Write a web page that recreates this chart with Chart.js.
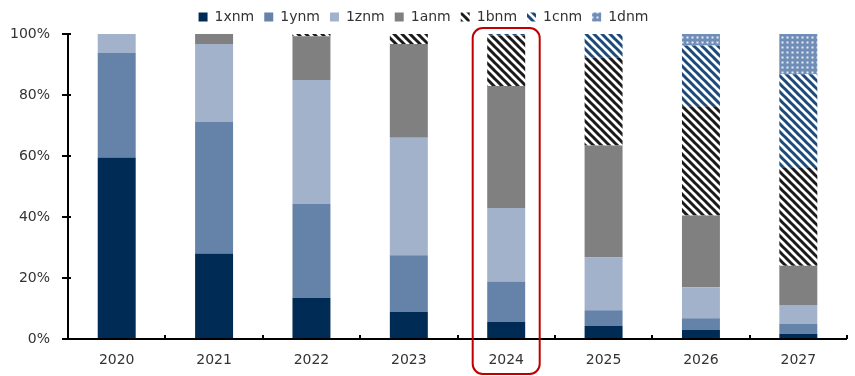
<!DOCTYPE html>
<html>
<head>
<meta charset="utf-8">
<script src="https://cdn.jsdelivr.net/npm/chart.js@4/dist/chart.umd.min.js"></script>
<style>
html,body{margin:0;padding:0;background:#fff;}
#wrap{width:855px;height:376px;position:relative;}
</style>
</head>
<body>
<div id="wrap"><canvas id="c" width="855" height="376"></canvas></div>
<script>
const categories = ['2020','2021','2022','2023','2024','2025','2026','2027'];
const seriesNames = ['1xnm','1ynm','1znm','1anm','1bnm','1cnm','1dnm'];
const s1xnm = [59.5, 28.1, 13.6, 9.0, 5.7, 4.3, 3.0, 1.8];
const s1ynm = [34.3, 43.1, 30.7, 18.5, 13.2, 5.2, 3.9, 3.2];
const s1znm = [6.2, 25.5, 40.6, 38.5, 24.1, 17.3, 10.1, 6.2];
const s1anm = [0, 3.3, 14.4, 30.7, 40.0, 36.7, 23.5, 12.9];
const s1bnm = [0, 0, 0.7, 3.3, 16.5, 28.8, 35.8, 32.2];
const s1cnm = [0, 0, 0, 0, 0.5, 7.7, 19.9, 30.5];
const s1dnm = [0, 0, 0, 0, 0, 0, 3.8, 13.2];
const yTicks = [0, 20, 40, 60, 80, 100];
const highlightIndex = 4;

function stripePattern(color) {
  const size = 8;
  const c = document.createElement('canvas');
  c.width = size; c.height = size;
  const g = c.getContext('2d');
  g.fillStyle = '#ffffff';
  g.fillRect(0, 0, size, size);
  g.strokeStyle = color;
  g.lineWidth = 3;
  g.beginPath();
  for (let k = -1; k <= 1; k++) {
    g.moveTo(k * size - 1, -1);
    g.lineTo(k * size + size + 1, size + 1);
  }
  g.stroke();
  return g.createPattern(c, 'repeat');
}
function dotPattern(bg, dot) {
  const size = 5;
  const c = document.createElement('canvas');
  c.width = size; c.height = size;
  const g = c.getContext('2d');
  g.fillStyle = bg;
  g.fillRect(0, 0, size, size);
  g.fillStyle = dot;
  g.fillRect(1.5, 1.5, 2, 2);
  return g.createPattern(c, 'repeat');
}

const fills = [
  '#002b55',
  '#6583a8',
  '#a2b2ca',
  '#808080',
  stripePattern('#1a1a1a'),
  stripePattern('#1c4a7a'),
  dotPattern('#6f8db6', '#e8eef6')
];
const values = [s1xnm, s1ynm, s1znm, s1anm, s1bnm, s1cnm, s1dnm];

const datasets = seriesNames.map((n, i) => ({
  label: n,
  data: values[i],
  backgroundColor: fills[i],
  borderWidth: 0,
  categoryPercentage: 1,
  barPercentage: 0.39
}));

const axisPlugin = {
  id: 'axisPlugin',
  afterDraw(chart) {
    const ctx = chart.ctx;
    const x = chart.scales.x, y = chart.scales.y;
    const ca = chart.chartArea;
    const y0 = Math.round(y.getPixelForValue(0));
    const y100 = Math.round(y.getPixelForValue(100));
    const L = Math.round(ca.left), R = Math.round(ca.right);
    ctx.save();
    ctx.fillStyle = '#000000';
    ctx.fillRect(L - 1, y100, 2, y0 - y100 + 1);
    ctx.fillRect(L - 1, y0 - 1, R - L + 1, 2);
    yTicks.forEach(v => {
      const py = Math.round(y.getPixelForValue(v));
      ctx.fillRect(L - 6, py - 1, 9, 2);
    });
    const step = x.getPixelForValue(1) - x.getPixelForValue(0);
    for (let i = 0; i < categories.length; i++) {
      const px = Math.round(x.getPixelForValue(i) + step / 2);
      ctx.fillRect(px - 1, y0 - 4, 2, 4);
    }
    const cx = x.getPixelForValue(highlightIndex);
    const w = 67, left = cx - w / 2, top = y100 - 6, bottom = chart.height - 2;
    ctx.strokeStyle = '#c00000';
    ctx.lineWidth = 2;
    ctx.beginPath();
    ctx.roundRect(left, top, w, bottom - top, 10);
    ctx.stroke();
    ctx.restore();
  }
};

new Chart(document.getElementById('c'), {
  type: 'bar',
  data: { labels: categories, datasets },
  options: {
    responsive: false,
    animation: false,
    layout: { padding: { left: 0, right: 8, top: 0, bottom: 2 } },
    plugins: {
      legend: {
        position: 'top',
        labels: {
          font: { family: 'DejaVu Sans', size: 14 },
          color: '#333',
          boxWidth: 9,
          boxHeight: 9,
          padding: 10
        }
      },
      tooltip: { enabled: false }
    },
    scales: {
      x: {
        stacked: true,
        grid: { display: false },
        border: { display: false },
        ticks: { font: { family: 'DejaVu Sans', size: 14 }, color: '#333', padding: 5 }
      },
      y: {
        stacked: true,
        min: 0, max: 100,
        afterBuildTicks(axis) { axis.ticks = yTicks.map(v => ({ value: v })); },
        grid: { display: false },
        border: { display: false },
        ticks: {
          font: { family: 'DejaVu Sans', size: 14 }, color: '#333', padding: 10,
          callback: v => v + '%'
        }
      }
    }
  },
  plugins: [axisPlugin]
});
</script>
</body>
</html>
